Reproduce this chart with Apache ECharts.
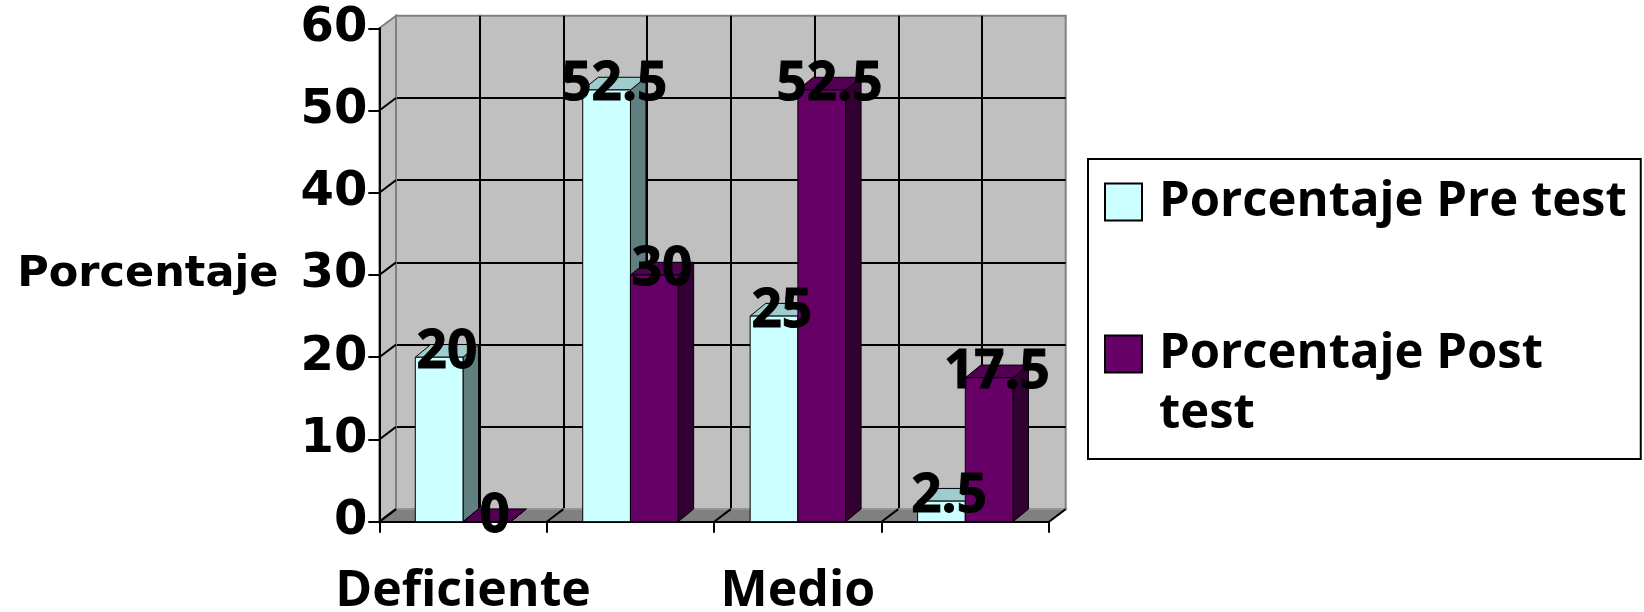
<!DOCTYPE html>
<html>
<head>
<meta charset="utf-8">
<script src="https://cdn.jsdelivr.net/npm/echarts@6/dist/echarts.min.js"></script>
<style>
  html, body { margin: 0; padding: 0; background: #ffffff; }
  #chart { width: 1644px; height: 612px; }
</style>
</head>
<body>
<div id="chart"></div>
<script>
// Categories and values (percent of students per level)
const categories = ['Deficiente', 'Bajo', 'Medio', 'Alto'];
const preTest = [20, 52.5, 25, 2.5];
const postTest = [0, 30, 52.5, 17.5];
const seriesNames = ['Porcentaje Pre test', 'Porcentaje Post test'];
const axisTitle = 'Porcentaje';
const Y_MIN = 0, Y_MAX = 60, Y_STEP = 10;

// Plot geometry and 3D depth
const FRONT = { left: 379.3, top: 28.3, width: 669.7, height: 493.4 };
const WALL_DX = 16.7, WALL_DY = -12.6;
const BAR_DX = 15.5, BAR_DY = -12.7;
const BAR_RATIO = 0.285;

const FACES = {
  pre:  { front: '#CCFFFF', side: '#608080', top: '#9FCCCC' },
  post: { front: '#660066', side: '#330033', top: '#520052' }
};

const LABEL_FONT = 'bold 53px "Open Sans"';

function barRenderer(faces, slot) {
  return function (params, api) {
    const idx = api.value(0);
    const val = api.value(1);
    const top = api.coord([idx, val]);
    const base = api.coord([idx, 0]);
    const band = api.size([1, 0])[0];
    const w = band * BAR_RATIO;
    const x0 = top[0] + slot * w;
    const x1 = x0 + w;
    const yT = top[1], yB = base[1];
    const edge = { stroke: '#000', lineWidth: 1 };
    return {
      type: 'group',
      children: [
        { type: 'polygon',
          shape: { points: [[x1, yT], [x1 + BAR_DX, yT + BAR_DY], [x1 + BAR_DX, yB + BAR_DY], [x1, yB]] },
          style: Object.assign({ fill: faces.side }, edge) },
        { type: 'polygon',
          shape: { points: [[x0, yT], [x0 + BAR_DX, yT + BAR_DY], [x1 + BAR_DX, yT + BAR_DY], [x1, yT]] },
          style: Object.assign({ fill: faces.top }, edge) },
        { type: 'rect',
          shape: { x: x0, y: yT, width: w, height: yB - yT },
          style: Object.assign({ fill: faces.front }, edge) },
        { type: 'text', z2: 100,
          style: { text: String(val), x: x0 + w / 2 + BAR_DX / 2, y: yT + BAR_DY + 8,
                   align: 'center', verticalAlign: 'middle', font: LABEL_FONT,
                   fill: '#000', stroke: '#000', lineWidth: 1 } }
      ]
    };
  };
}

// Side wall and floor of the 3D box
function wallRenderer(params, api) {
  const cs = params.coordSys;
  const L = cs.x, R = cs.x + cs.width, T = cs.y, B = cs.y + cs.height;
  const band = api.size([1, 0])[0];
  const children = [
    { type: 'polygon',
      shape: { points: [[L, T], [L + WALL_DX, T + WALL_DY], [L + WALL_DX, B + WALL_DY], [L, B]] },
      style: { fill: '#c0c0c0', stroke: '#808080', lineWidth: 2 } },
    { type: 'polygon',
      shape: { points: [[L, B], [L + WALL_DX, B + WALL_DY], [R + WALL_DX, B + WALL_DY], [R, B]] },
      style: { fill: '#808080', stroke: '#9a9a9a', lineWidth: 1.5 } }
  ];
  for (let v = Y_MIN; v < Y_MAX; v += Y_STEP) {
    const y = api.coord([0, v])[1];
    children.push({ type: 'line', shape: { x1: L, y1: y, x2: L + WALL_DX, y2: y + WALL_DY },
                    style: { stroke: '#000', lineWidth: 2 } });
  }
  for (let i = 0; i <= categories.length; i++) {
    const x = L + i * band;
    children.push({ type: 'line', shape: { x1: x, y1: B, x2: x + WALL_DX, y2: B + WALL_DY },
                    style: { stroke: '#000', lineWidth: 2 } });
  }
  return { type: 'group', children: children };
}

const chart = echarts.init(document.getElementById('chart'), null, { renderer: 'canvas' });

const hiddenAxisParts = {
  axisLine: { show: false }, axisTick: { show: false }, axisLabel: { show: false }
};
const backSplit = { show: true, showMinLine: false, showMaxLine: false,
                    lineStyle: { color: '#000', width: 2 } };

chart.setOption({
  animation: false,
  backgroundColor: '#ffffff',
  grid: [
    { left: FRONT.left, top: FRONT.top, width: FRONT.width, height: FRONT.height, z: 0,
      containLabel: false, outerBoundsMode: 'none' },
    { left: FRONT.left + WALL_DX, top: FRONT.top + WALL_DY, width: FRONT.width, height: FRONT.height,
      containLabel: false, outerBoundsMode: 'none',
      show: true, backgroundColor: '#c0c0c0', borderColor: '#808080', borderWidth: 2, z: -5 }
  ],
  xAxis: [
    { type: 'category', gridIndex: 0, data: categories, boundaryGap: true,
      axisLine: { show: true, lineStyle: { color: '#000', width: 2 } },
      axisTick: { show: true, interval: 0, length: 11, lineStyle: { color: '#000', width: 2 } },
      axisLabel: { interval: 1, margin: 45, color: '#000', fontFamily: 'Open Sans',
                   fontWeight: 'bold', fontSize: 50, lineHeight: 50 },
      splitLine: { show: false } },
    Object.assign({ type: 'value', gridIndex: 1, min: 0, max: categories.length, interval: 0.5,
                    z: -4, splitLine: backSplit }, hiddenAxisParts)
  ],
  yAxis: [
    { type: 'value', gridIndex: 0, min: Y_MIN, max: Y_MAX, interval: Y_STEP,
      name: axisTitle, nameLocation: 'middle', nameRotate: 0, nameGap: 101,
      nameTextStyle: { color: '#000', fontFamily: 'DejaVu Sans', fontWeight: 'bold', fontSize: 43 },
      axisLine: { show: true, lineStyle: { color: '#000', width: 2 } },
      axisTick: { show: true, length: 11, lineStyle: { color: '#000', width: 2 } },
      axisLabel: { margin: 12, color: '#000', fontFamily: 'DejaVu Sans', fontWeight: 'bold', fontSize: 48 },
      splitLine: { show: false } },
    Object.assign({ type: 'value', gridIndex: 1, min: Y_MIN, max: Y_MAX, interval: Y_STEP,
                    z: -4, splitLine: backSplit }, hiddenAxisParts)
  ],
  legend: {
    orient: 'vertical', left: 1088, top: 159,
    padding: [6, 14, 8, 16], itemGap: 18, itemWidth: 37, itemHeight: 37,
    borderColor: '#000', borderWidth: 2, backgroundColor: '#fff',
    selectedMode: false,
    data: seriesNames.map(function (n) { return { name: n, icon: 'rect' }; }),
    itemStyle: { borderColor: '#000', borderWidth: 2 },
    textStyle: { color: '#000', fontFamily: 'Open Sans', fontWeight: 'bold', fontSize: 49,
                 lineHeight: 60, padding: [14, 0, 0, 12] },
    formatter: function (name) {
      return name === seriesNames[1] ? '\n' + name.replace(/ (\S+)$/, '\n$1') : name;
    }
  },
  series: [
    { type: 'custom', name: 'walls', xAxisIndex: 0, yAxisIndex: 0, z: -3,
      renderItem: wallRenderer, data: [[0, 0]], silent: true },
    { type: 'custom', name: seriesNames[0], xAxisIndex: 0, yAxisIndex: 0,
      itemStyle: { color: FACES.pre.front },
      encode: { x: 0, y: 1 },
      renderItem: barRenderer(FACES.pre, -1),
      data: preTest.map(function (v, i) { return [i, v]; }) },
    { type: 'custom', name: seriesNames[1], xAxisIndex: 0, yAxisIndex: 0,
      itemStyle: { color: FACES.post.front },
      encode: { x: 0, y: 1 },
      renderItem: barRenderer(FACES.post, 0),
      data: postTest.map(function (v, i) { return [i, v]; }) }
  ]
});
</script>
</body>
</html>
